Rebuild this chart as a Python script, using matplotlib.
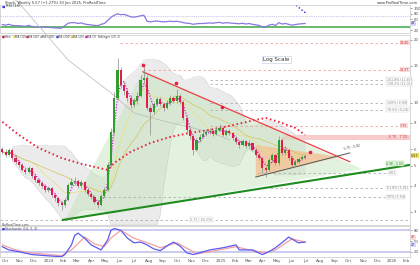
import matplotlib
matplotlib.use("Agg")
import matplotlib.pyplot as plt
import matplotlib.dates as mdates
import matplotlib.ticker as mticker
import numpy as np
import pandas as pd

# Weekly candles
weeks = pd.date_range("2023-09-25", periods=93, freq="7D")
first_open = 6.00
closes = [5.82, 5.63, 5.95, 5.45, 5.22, 5.04, 4.77, 4.67, 4.87, 4.46,
          4.27, 4.13, 3.99, 3.82, 3.90, 3.62, 3.50, 3.31, 3.24, 3.43,
          4.04, 4.18, 4.22, 3.99, 4.18, 3.82, 3.66, 3.54, 3.35, 3.24,
          3.58, 3.82, 5.04, 7.25, 10.55, 14.40, 12.20, 11.40, 10.55, 9.77,
          10.20, 10.80, 12.90, 13.20, 9.45, 9.05, 9.88, 10.40, 9.88, 9.45,
          10.00, 10.55, 10.20, 10.80, 10.10, 8.47, 7.41, 6.94, 5.95, 6.64,
          6.86, 7.10, 7.25, 7.33, 7.10, 7.41, 7.58, 7.02, 7.33, 7.17,
          6.79, 6.50, 6.28, 6.57, 6.21, 6.43, 5.95, 5.63, 5.45, 4.87,
          4.77, 5.33, 5.63, 5.16, 6.64, 5.75, 5.95, 5.45, 5.04, 5.22,
          5.39, 5.50, 5.57]
highs = [6.15, 6.00, 6.10, 6.05, 5.60, 5.35, 5.15, 4.95, 5.00, 4.95,
         4.58, 4.35, 4.22, 4.10, 4.00, 3.95, 3.70, 3.55, 3.40, 3.50,
         4.15, 4.35, 4.40, 4.30, 4.28, 4.22, 3.90, 3.72, 3.60, 3.42,
         3.65, 3.95, 5.20, 7.60, 11.20, 16.30, 14.80, 12.60, 11.80, 10.90,
         10.50, 11.20, 13.60, 15.00, 13.60, 9.80, 10.10, 10.70, 10.60, 10.00,
         10.30, 10.90, 10.80, 11.60, 11.00, 10.30, 8.60, 7.60, 7.05, 6.80,
         7.05, 7.30, 7.45, 7.55, 7.50, 7.65, 7.90, 7.70, 7.50, 7.45,
         7.25, 6.90, 6.60, 6.70, 6.65, 6.60, 6.50, 6.05, 5.75, 5.50,
         5.00, 5.45, 5.75, 5.70, 6.95, 6.80, 6.10, 6.00, 5.55, 5.35,
         5.50, 5.62, 5.70]
lows = [5.70, 5.50, 5.55, 5.35, 5.10, 4.95, 4.70, 4.55, 4.60, 4.38,
        4.18, 4.05, 3.90, 3.75, 3.76, 3.55, 3.40, 3.20, 3.07, 3.18,
        3.40, 3.98, 4.05, 3.90, 3.92, 3.75, 3.58, 3.45, 3.28, 3.15,
        3.20, 3.52, 3.78, 4.95, 7.10, 10.30, 11.80, 10.90, 10.20, 9.40,
        9.50, 9.90, 10.60, 12.40, 9.20, 7.00, 8.80, 9.70, 9.60, 9.10,
        9.30, 9.80, 9.95, 10.00, 9.85, 8.30, 7.20, 6.70, 5.60, 5.85,
        6.50, 6.75, 6.95, 7.05, 6.95, 7.00, 7.30, 6.90, 6.90, 7.00,
        6.65, 6.35, 6.10, 6.20, 6.05, 6.10, 5.85, 5.50, 5.30, 4.60,
        4.42, 4.70, 5.20, 5.05, 5.05, 5.60, 5.65, 5.35, 4.95, 4.98,
        5.12, 5.30, 5.40]

rsi = [40, 38, 41, 37, 36, 36, 35, 34, 37, 33, 32, 31, 31,
       30, 31, 29, 28, 27, 27, 36, 45,
       47, 47, 44, 46, 42, 40, 39, 37, 36, 41, 44,
       55, 66, 74, 79, 76, 77, 73, 68, 67, 69, 72, 74,
       52, 50, 52, 53, 51, 50, 51, 52, 51, 52, 50,
       47, 45, 44, 41, 43, 44, 44, 45,
       46, 45, 47, 48, 45, 47, 46,
       45, 44, 43, 45, 42, 44, 41, 39, 37,
       32, 31, 38, 41, 37, 47,
       42, 44, 41, 38, 40, 42, 43, 44]

# slow average (red dots) and long average (grey), at week indices
ma_red_idx = [0, 5, 11, 18, 24, 32, 34, 39, 45, 51, 57, 63, 69, 73, 77, 80, 84, 89, 92]
ma_red = [8.10, 7.02, 6.08, 5.44, 5.10, 4.77, 5.15, 5.82, 6.42, 6.86, 7.17, 7.41,
          7.75, 8.01, 8.28, 8.46, 8.10, 7.58, 7.02]
ma_grey_idx = [2, 5, 20, 33, 40, 50, 63, 69]
ma_grey = [32.9, 30.1, 16.0, 11.15, 8.94, 8.10, 7.25, 6.64]

# stochastic %K and %D, at week indices
stoch_k_idx = [0, 2, 5, 9, 13, 18, 19, 21, 22, 23, 25, 27, 30, 32, 33, 34, 36, 38, 40,
               42, 44, 46, 48, 50, 52, 54, 56, 58, 60, 63, 67, 71, 72, 76, 79, 81, 83,
               86, 87, 90, 92]
stoch_k = [34, 25, 20, 12, 9, 6, 12, 39, 66, 72, 58, 39, 25, 53, 80, 85, 80, 58, 45,
           47, 39, 28, 23, 36, 47, 36, 17, 12, 17, 25, 31, 39, 25, 25, 12, 20, 31,
           53, 61, 45, 47]
stoch_d_idx = [0, 4, 8, 18, 21, 25, 28, 31, 33, 36, 40, 45, 48, 53, 57, 59, 63, 71,
               75, 80, 83, 88, 92]
stoch_d = [39, 25, 17, 9, 25, 61, 42, 34, 58, 80, 58, 42, 31, 45, 25, 14, 20, 34,
           25, 17, 25, 56, 47]

# drawn trendlines, zones and levels
green_line_dates = ["2024-02-01", "2026-02-08"]
green_line_prices = [2.75, 5.04]
red_line_dates = ["2024-07-20", "2025-10-03"]
red_line_prices = [14.06, 5.22]
green_zone_dates = ["2024-02-05", "2024-07-20", "2025-10-29"]
green_zone_prices = [2.75, 14.06, 4.82]
orange_zone_dates = ["2025-03-17", "2025-09-12", "2025-03-17"]
orange_zone_prices = [6.28, 5.51, 4.41]
support_dates = ["2025-03-17", "2025-10-03"]
support_prices = [4.41, 5.75]
pivot_dates = ["2024-07-20", "2024-09-28", "2025-01-04", "2025-07-10"]
pivot_prices = [15.2, 12.45, 9.56, 5.82]

level_prices = [19.4, 14.37, 12.87, 12.31, 9.99, 9.24, 7.75, 4.61, 3.91, 3.54, 2.75]
level_starts = ["2024-06-01", "2024-07-20", "2024-12-10", "2024-12-10", "2024-12-10",
                "2024-12-10", "2024-12-10", "2025-03-22", "2025-04-16", "2024-04-26",
                "2023-09-20"]
level_ends = ["2026-01-18", "2026-01-18", "2025-12-17", "2025-12-17", "2025-12-17",
              "2025-12-17", "2026-01-18", "2025-12-23", "2025-12-17", "2025-12-17",
              "2026-02-08"]
level_pink = [True, True, False, False, False, False, True, False, False, False, False]
level_texts = ["19.40", "14.37", "161.8% (12.87)", "138.2% (12.31)", "100% (9.99)",
               "78.6% (9.24)", "7.75", "4.61", "61.8% (3.91)", "50% (3.54)",
               "2.73 (-50.2%)"]
level_text_dates = ["2026-01-18", "2026-01-18", "2025-12-21", "2025-12-21", "2025-12-21",
                    "2025-12-21", "2026-01-18", "2025-12-25", "2025-12-21", "2025-12-21",
                    "2024-10-28"]

GREEN = "#2f9e2f"
RED = "#e0204a"

def d(s):
    return mdates.date2num(pd.Timestamp(s))

fig = plt.figure(figsize=(4.2, 2.65), dpi=100)
ax_rsi = fig.add_axes([0, 0.875, 0.976, 0.106])
ax = fig.add_axes([0, 0.151, 0.976, 0.717])
ax_st = fig.add_axes([0, 0.030, 0.976, 0.117])

xlim = (d("2023-09-20"), d("2026-02-08"))
wk = mdates.date2num(weeks)

for a in (ax_rsi, ax, ax_st):
    a.set_xlim(*xlim)
    for sp in a.spines.values():
        sp.set_color("#c8c8c8")
        sp.set_linewidth(0.5)
    a.yaxis.tick_right()
    a.tick_params(axis="y", labelsize=2.8, length=1.5, width=0.4, pad=1, colors="#555555")
    a.tick_params(axis="x", length=0)

# ---- RSI panel
ax_rsi.set_ylim(9, 111)
ax_rsi.axhline(70, color="#c8c8f0", lw=0.8, ls=(0, (1, 1)))
ax_rsi.axhline(30, color="#4caf50", lw=1.2)
ax_rsi.plot(wk, rsi, color="#8878e0", lw=0.9)
ax_rsi.plot([d("2025-06-11"), d("2025-07-02")], [110, 81], color="#2a2ae0", lw=1, ls=(0, (1, 1.5)))
ax_rsi.set_yticks([20, 60, 80, 100])
ax_rsi.set_xticklabels([])
ax_rsi.text(1.003, rsi[-1], f"{rsi[-1]}", transform=ax_rsi.get_yaxis_transform(),
            fontsize=2.4, va="center", color="#333366",
            bbox=dict(fc="#d8d0f8", ec="none", pad=0.3))

# ---- main price panel
ax.set_yscale("log")
ax.set_ylim(2.6, 21.1)

# bollinger and averages from the closes
s = pd.Series(closes, index=weeks)
mid = s.rolling(20, min_periods=4).mean()
sd = s.rolling(20, min_periods=4).std()
up = mid + 2 * sd
lo = (mid - 2 * sd).clip(lower=2.6)
ax.fill_between(wk, lo, up, color="#ebebeb", lw=0, zorder=1)
ax.plot(wk, up, color="#cfcfcf", lw=0.4, zorder=1.2)
ax.plot(wk, lo, color="#cfcfcf", lw=0.4, zorder=1.2)

ax.fill([d(x) for x in green_zone_dates], green_zone_prices, color="#bfe3b6", alpha=0.45,
        lw=0, zorder=1.5)
ax.fill([d(x) for x in orange_zone_dates], orange_zone_prices, color="#f3c49a", alpha=0.85,
        lw=0, zorder=1.6)

ax.fill_between([d("2025-05-14"), d("2026-02-08")], 6.64, 7.02, color="#f8cccc", lw=0, zorder=1.4)

for p, a0, a1, pink, t, td in zip(level_prices, level_starts, level_ends, level_pink,
                                  level_texts, level_text_dates):
    c = "#f4a0a0" if pink else "#b0b0b0"
    ax.hlines(p, d(a0), d(a1), colors=c, lw=0.6, ls=(0, (3, 3)), zorder=2)
    if pink:
        ax.text(d(td), p, t, fontsize=2.3, va="center", color="#d03030", zorder=8,
                bbox=dict(fc="#fbdada", ec="none", pad=0.3))
    else:
        ax.text(d(td), p, t, fontsize=2.3, va="center", color="#888888", zorder=8,
                bbox=dict(fc="white", ec="#cccccc", lw=0.3, pad=0.3))

ax.text(d("2025-12-25"), 6.85, "6.76 - 7.02", fontsize=2.3, va="center", color="#d03030",
        zorder=8, bbox=dict(fc="#fbdada", ec="#f0a0a0", lw=0.3, pad=0.3))

ax.plot(wk, s.rolling(10, min_periods=1).mean(), color="#e8e07a", lw=0.5, zorder=3)
ax.plot(wk, s.rolling(20, min_periods=1).mean(), color="#d4c45a", lw=0.5, zorder=3)
ax.plot(wk[ma_grey_idx], ma_grey, color="#b8b8b8", lw=0.5, zorder=3, clip_on=False)
ax.plot(wk[ma_red_idx], ma_red, color="#e8203c", lw=1.4, ls=(0, (0.8, 1.4)), zorder=4)
ax.plot(wk, s.rolling(3, min_periods=1).mean(), color="#d020d0", lw=1.0,
        ls=(0, (0.8, 1.2)), zorder=4)

ax.plot([d(x) for x in red_line_dates], red_line_prices, color="#e84040", lw=0.9, zorder=4)
ax.plot([d(x) for x in green_line_dates], green_line_prices, color="#1e8c1e", lw=1.5, zorder=4)
ax.plot([d(x) for x in support_dates], support_prices, color="#555555", lw=0.7, zorder=4)
ax.text(d("2025-09-20"), 5.95, "5.75 - 5.82", fontsize=2.2, color="#444444", rotation=12,
        zorder=8)
ax.text(d("2025-12-20"), 5.1, "4.98 - 5.04", fontsize=2.2, color="#1e8c1e", va="center",
        zorder=8, bbox=dict(fc="#e6f5e0", ec="#9ccc90", lw=0.3, pad=0.3))
ax.plot([d(x) for x in pivot_dates], pivot_prices, "o", color="#e8203c", ms=1.6, zorder=7)

# candles
o = np.array([first_open] + closes[:-1])
c = np.array(closes)
cols = [GREEN if cc >= oo else RED for oo, cc in zip(o, c)]
ax.vlines(wk, lows, highs, colors="#8a8a8a", lw=0.5, zorder=5)
ax.bar(wk, np.maximum(np.abs(c - o), 0.02), bottom=np.minimum(o, c), width=4.6,
       color=cols, lw=0, zorder=6)

price_ticks = [3, 4, 5, 6, 8, 10, 15, 20]
ax.yaxis.set_major_locator(mticker.FixedLocator(price_ticks))
ax.yaxis.set_minor_locator(mticker.NullLocator())
ax.yaxis.set_major_formatter(mticker.FuncFormatter(lambda v, _: f"{v:g}"))
ax.set_xticklabels([])
ax.text(1.003, closes[-1], f"{closes[-1]:.2f}", transform=ax.get_yaxis_transform(),
        fontsize=2.4, va="center", color="#333333",
        bbox=dict(fc="#f0e060", ec="none", pad=0.3))

ax.text(0.674, 0.87, "Log Scale", transform=ax.transAxes, fontsize=4, ha="center",
        va="center", color="#333333",
        bbox=dict(fc="white", ec="#c0c8e0", lw=0.4, pad=0.8))

# ---- stochastic panel
ax_st.set_ylim(5, 92)
ax_st.axhline(80, color="#c4c4f0", lw=1.2)
ax_st.axhline(20, color="#c4c4f0", lw=1.2)
ax_st.plot(wk[stoch_d_idx], stoch_d, color="#f4a0a0", lw=0.9)
ax_st.plot(wk[stoch_k_idx], stoch_k, color="#5a5af0", lw=0.9)
ax_st.set_yticks([20, 50, 80])
ax_st.text(1.003, 60, f"{stoch_d[-1]}", transform=ax_st.get_yaxis_transform(),
           fontsize=2.3, va="center", color="#c03030",
           bbox=dict(fc="#fbdada", ec="none", pad=0.2))
ax_st.text(1.003, 40, f"{stoch_k[-1]}", transform=ax_st.get_yaxis_transform(),
           fontsize=2.3, va="center", color="#3030c0",
           bbox=dict(fc="#d8d8fb", ec="none", pad=0.2))

ax_st.xaxis.set_major_locator(mdates.MonthLocator())
ax_st.xaxis.set_major_formatter(mticker.FuncFormatter(
    lambda v, _: str(mdates.num2date(v).year) if mdates.num2date(v).month == 1
    else mdates.num2date(v).strftime("%b")))
ax_st.tick_params(axis="x", labelsize=3, pad=1.5, colors="#555555")

# ---- header texts
fig.text(0.012, 0.989, "Stock, Weekly 5.57 (+1.27%) 30 Jun 2025, ProRealTime", fontsize=2.6,
         va="center", color="#333333")
fig.text(0.995, 0.989, "www.ProRealTime.com", fontsize=2.6, va="center", ha="right",
         color="#333333")
fig.text(0.004, 0.976, "\u25a0", fontsize=2.5, va="center", color="#4040e0")
fig.text(0.014, 0.976, "RSI (14)", fontsize=2.5, va="center", color="#333333")

legend_x = [2, 13, 26, 40, 56, 71, 85, 98]
legend_colors = ["#c0102a", "#e8d84a", "#e8203c", "#b0b0b0", "#3050e0", "#d8c020", "#d020d0", None]
legend_labels = ["Price", "MA (10)", "MA (40)", "MA (100)", "MA (200)", "MA (20)", "MA (3)",
                 "Bollinger (20, 2)"]
for lx, lc, lt in zip(legend_x, legend_colors, legend_labels):
    if lc:
        fig.text(lx / 420, 1 - 37 / 265, "\u25a0", fontsize=2.2, va="center", color=lc)
        fig.text((lx + 2.3) / 420, 1 - 37 / 265, lt, fontsize=2.0, va="center", color="#444444")
    else:
        fig.text(lx / 420, 1 - 37 / 265, lt, fontsize=2.0, va="center", color="#444444")

fig.text(0.004, 1 - 225 / 265, "ProRealTime.com", fontsize=2.3, va="center", color="#555555")
fig.text(0.004, 1 - 229 / 265, "\u25a0", fontsize=2.3, va="center", color="#4040e0")
fig.text(0.013, 1 - 229 / 265, "Stochastic (14, 3, 3)", fontsize=2.3, va="center", color="#444444")

fig.savefig("out.png", dpi=100)
